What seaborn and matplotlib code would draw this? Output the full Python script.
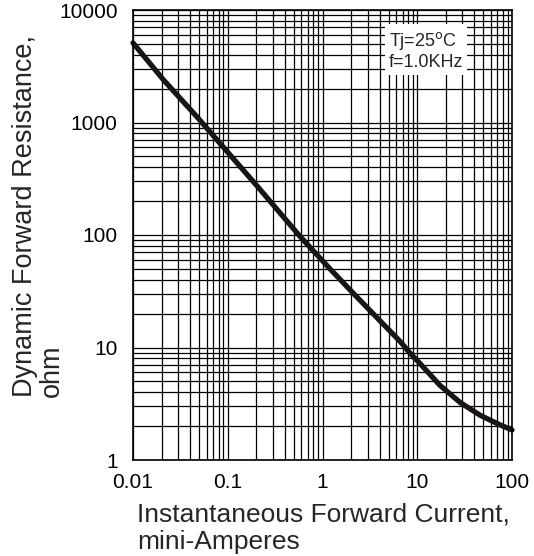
import matplotlib
matplotlib.use("Agg")
import matplotlib.pyplot as plt
import matplotlib.ticker as mticker
import pandas as pd
import seaborn as sns

# values
current_ma = [0.01, 0.021, 0.047, 0.106, 0.2, 0.58, 1.2, 2.2, 6.6, 8.4,
              10.7, 17.4, 28.3, 46.0, 75.0, 100.0]
resistance_ohm = [5100, 2390, 1130, 514, 278, 97, 50, 29.3, 11.3, 8.9,
                  7.2, 4.6, 3.25, 2.5, 2.05, 1.85]

x_ticks = [0.01, 0.1, 1, 10, 100]
x_tick_labels = ["0.01", "0.1", "1", "10", "100"]
y_ticks = [1, 10, 100, 1000, 10000]
y_tick_labels = ["1", "10", "100", "1000", "10000"]

df = pd.DataFrame({"current": current_ma, "resistance": resistance_ohm})

sns.set_style("white")
plt.rcParams["font.family"] = ["Liberation Sans", "DejaVu Sans"]

fig = plt.figure(figsize=(5.34, 5.56), dpi=100)
ax = fig.add_axes([133 / 534, 96 / 556, 379 / 534, 450 / 556])

ax.set_xscale("log")
ax.set_yscale("log")
ax.set_xlim(0.01, 100)
ax.set_ylim(1, 10000)

ax.xaxis.set_major_locator(mticker.FixedLocator(x_ticks))
ax.yaxis.set_major_locator(mticker.FixedLocator(y_ticks))
ax.xaxis.set_minor_locator(mticker.LogLocator(base=10, subs=range(2, 10), numticks=20))
ax.yaxis.set_minor_locator(mticker.LogLocator(base=10, subs=range(2, 10), numticks=20))
ax.xaxis.set_minor_formatter(mticker.NullFormatter())
ax.yaxis.set_minor_formatter(mticker.NullFormatter())
ax.set_xticklabels(x_tick_labels)
ax.set_yticklabels(y_tick_labels)

ax.grid(which="both", color="black", linewidth=0.9)
ax.set_axisbelow(True)

sns.lineplot(data=df, x="current", y="resistance", ax=ax,
             color="#1a1414", linewidth=3.8, clip_on=False)

ax.tick_params(which="both", length=0, labelsize=15, colors="black")
ax.tick_params(axis="x", pad=9)
ax.tick_params(axis="y", pad=11)

for s in ax.spines.values():
    s.set_color("black")
    s.set_linewidth(1.2)

ax.set_xlabel("Instantaneous Forward Current,\nmini-Amperes", fontsize=19,
              ha="left", x=0.01, multialignment="left", labelpad=8,
              linespacing=1.2)
ax.set_ylabel("Dynamic Forward Resistance,\nohm", fontsize=19.5,
              ha="left", va="center", multialignment="left",
              linespacing=1.05)
ax.yaxis.set_label_coords(-0.25, 0.14)

ax.text(0.675, 0.955, "Tj=25$^{\\mathsf{o}}$C\nf=1.0KHz", transform=ax.transAxes,
        fontsize=13, va="top", ha="left", linespacing=1.15,
        bbox=dict(facecolor="white", edgecolor="none", pad=3))

fig.savefig("out.png", dpi=100)
